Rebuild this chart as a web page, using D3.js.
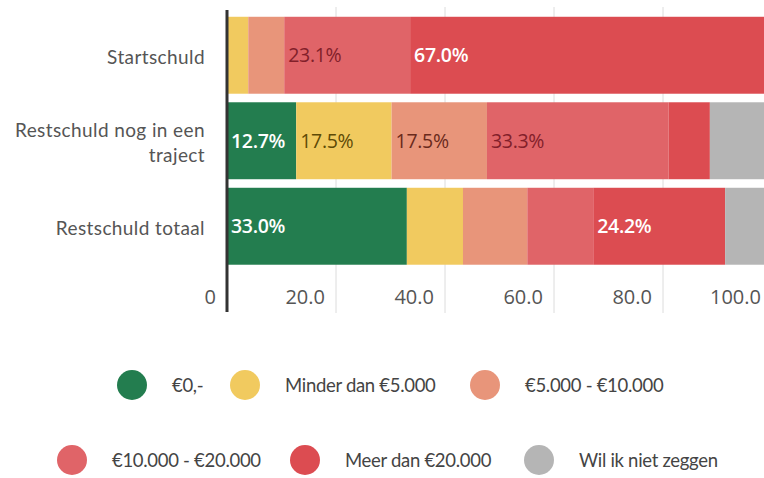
<!DOCTYPE html>
<html>
<head>
<meta charset="utf-8">
<script src="https://cdn.jsdelivr.net/npm/d3@7"></script>
<style>
  body { margin: 0; background: #fff; }
  svg { display: block; }
</style>
</head>
<body>
<div id="chart"></div>
<script>
// categories (rows) and the answer groups (stack order)
var categories = ["Startschuld", "Restschuld nog in een traject", "Restschuld totaal"];
var categoryLines = [["Startschuld"], ["Restschuld nog in een", "traject"], ["Restschuld totaal"]];
var groups = ["€0,-", "Minder dan €5.000", "€5.000 - €10.000", "€10.000 - €20.000", "Meer dan €20.000", "Wil ik niet zeggen"];

// percentages per group, one value per category
var nul        = [0.0, 12.7, 33.0];
var minder5    = [3.9, 17.5, 10.3];
var van5tot10  = [6.6, 17.5, 11.8];
var van10tot20 = [23.1, 33.3, 12.1];
var meer20     = [67.0, 7.6, 24.2];
var wilNiet    = [0.0, 11.4, 8.6];

// which segments show a value label
var labelShown = [
  [false, false, false, true, true, false],
  [true, true, true, true, false, false],
  [true, false, false, false, true, false]
];

var ticks = [0, 20, 40, 60, 80, 100];

var colors = ["#237d4f", "#f1ca5f", "#e8957a", "#e06468", "#dc4c51", "#b5b5b5"];
var labelColors = ["#ffffff", "#5e4a06", "#6a2a1c", "#82202a", "#ffffff", "#333333"];
var labelWeights = [600, 400, 400, 400, 600, 400];

var W = 764, H = 478;
var svg = d3.select("#chart").append("svg")
  .attr("width", W).attr("height", H);

var series = [nul, minder5, van5tot10, van10tot20, meer20, wilNiet];
var table = categories.map(function(c, i) {
  var row = {cat: c};
  groups.forEach(function(g, j) { row[g] = series[j][i]; });
  return row;
});
var stacked = d3.stack().keys(groups)(table);

var x = d3.scaleLinear().domain([0, 100]).range([227, 772]);
var y = d3.scaleBand().domain(categories).range([12.5, 269])
  .paddingInner(0.1).paddingOuter(0.05);

// gridlines
svg.append("g").selectAll("line").data(ticks.slice(1)).join("line")
  .attr("x1", function(d) { return x(d); })
  .attr("x2", function(d) { return x(d); })
  .attr("y1", 7).attr("y2", 313)
  .attr("stroke", "#dcdcdc").attr("stroke-width", 1);

// bars
var layer = svg.append("g").selectAll("g").data(stacked).join("g")
  .attr("fill", function(d, i) { return colors[i]; });
layer.selectAll("rect").data(function(d) { return d; }).join("rect")
  .attr("x", function(d) { return x(d[0]); })
  .attr("y", function(d) { return y(d.data.cat); })
  .attr("width", function(d) { return Math.max(0, x(d[1]) - x(d[0])); })
  .attr("height", y.bandwidth());

// value labels
stacked.forEach(function(s, j) {
  s.forEach(function(d, i) {
    if (!labelShown[i][j]) return;
    svg.append("text")
      .attr("x", x(d[0]) + 4)
      .attr("y", y(d.data.cat) + y.bandwidth() / 2)
      .attr("dy", "0.36em")
      .attr("font-family", "'Open Sans', sans-serif")
      .attr("font-size", 19.5)
      .attr("font-weight", labelWeights[j])
      .attr("letter-spacing", -0.3)
      .attr("fill", labelColors[j])
      .text(series[j][i].toFixed(1) + "%");
  });
});

// axis line
svg.append("line")
  .attr("x1", x(0)).attr("x2", x(0))
  .attr("y1", 10).attr("y2", 312)
  .attr("stroke", "#333").attr("stroke-width", 3);

// x tick labels
svg.append("g").selectAll("text").data(ticks).join("text")
  .attr("x", function(d) { return x(d) - 11; })
  .attr("y", 297)
  .attr("dy", "0.36em")
  .attr("text-anchor", "end")
  .attr("font-family", "'Open Sans', sans-serif")
  .attr("font-size", 20)
  .attr("fill", "#555")
  .text(function(d) { return d === 0 ? "0" : d3.format(".1f")(d); });

// category labels
categories.forEach(function(c, i) {
  var lines = categoryLines[i];
  var cy = y(c) + y.bandwidth() / 2 + 2;
  var t = svg.append("text")
    .attr("text-anchor", "end")
    .attr("font-family", "Lato, sans-serif")
    .attr("font-size", 19)
    .attr("letter-spacing", 0.4)
    .attr("fill", "#555");
  lines.forEach(function(l, k) {
    t.append("tspan")
      .attr("x", 205)
      .attr("y", cy + (k - (lines.length - 1) / 2) * 25)
      .attr("dy", "0.36em")
      .text(l);
  });
});

// legend
var legendPos = [
  {cx: 132, cy: 385}, {cx: 245, cy: 385}, {cx: 485, cy: 385},
  {cx: 72, cy: 460}, {cx: 305, cy: 460}, {cx: 539, cy: 460}
];
var legend = svg.append("g").selectAll("g").data(groups).join("g")
  .attr("transform", function(d, i) { return "translate(" + legendPos[i].cx + "," + legendPos[i].cy + ")"; });
legend.append("circle")
  .attr("r", 15)
  .attr("fill", function(d, i) { return colors[i]; });
legend.append("text")
  .attr("x", 40)
  .attr("dy", "0.36em")
  .attr("font-family", "Lato, sans-serif")
  .attr("font-size", 18.5)
  .attr("letter-spacing", -0.3)
  .attr("fill", "#444")
  .text(function(d) { return d; });
</script>
</body>
</html>
